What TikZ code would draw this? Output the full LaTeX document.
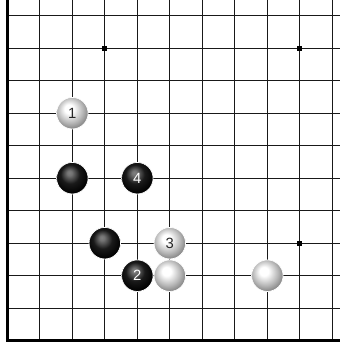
\documentclass[tikz,border=0pt]{standalone}
\usepackage{fontspec}
\newfontfamily\stonefont{Liberation Sans}

% stone shadings
\pgfdeclareradialshading{whitestone}{\pgfpoint{-6bp}{8bp}}{%
    color(0bp)=(white); color(7bp)=(white);
    color(20bp)=(black!28); color(30bp)=(black!52); color(50bp)=(black!55)}
\pgfdeclareradialshading{blackstone}{\pgfpoint{-5bp}{9bp}}{%
    color(0bp)=(black!50); color(4bp)=(black!55);
    color(15bp)=(black!90); color(28bp)=(black); color(50bp)=(black)}

\begin{document}
\begin{tikzpicture}[
    gridline/.style={line width=1.1pt, black!90},
    edgeline/.style={line width=2.8pt, black},
    hoshi/.style={rectangle, fill=black, inner sep=0pt, minimum size=4.2pt},
    stone/.style={
        circle, inner sep=0pt,
        minimum size=0.97cm,
        draw=white, line width=0.6pt,
        font=\stonefont\fontsize{13}{13}\selectfont
    },
    blackstone/.style={stone, shading=blackstone, text=white},
    whitestone/.style={stone, shading=whitestone, text=black!85}
]
\useasboundingbox (-0.225,-0.132) rectangle (10.237,10.483);

% Board
\foreach \i in {1,...,10}
    \draw[gridline] (\i,0) -- (\i,10.483);
\foreach \j in {1,...,10}
    \draw[gridline] (0,\j) -- (10.237,\j);
\draw[edgeline] (0,10.483) -- (0,0) -- (10.237,0);

% Star points
\node[hoshi] (star nw) at (3,9) {};
\node[hoshi] (star ne) at (9,9) {};
\node[hoshi] (star se) at (9,3) {};

% Stones already on the board
\node[blackstone] (black a) at (2,5) {};
\node[blackstone] (black b) at (3,3) {};
\node[whitestone] (white a) at (5,2) {};
\node[whitestone] (white b) at (8,2) {};

% Numbered moves
\node[whitestone] (move1) at (2,7) {1};
\node[blackstone] (move2) at (4,2) {2};
\node[whitestone] (move3) at (5,3) {3};
\node[blackstone] (move4) at (4,5) {4};

\end{tikzpicture}
\end{document}
